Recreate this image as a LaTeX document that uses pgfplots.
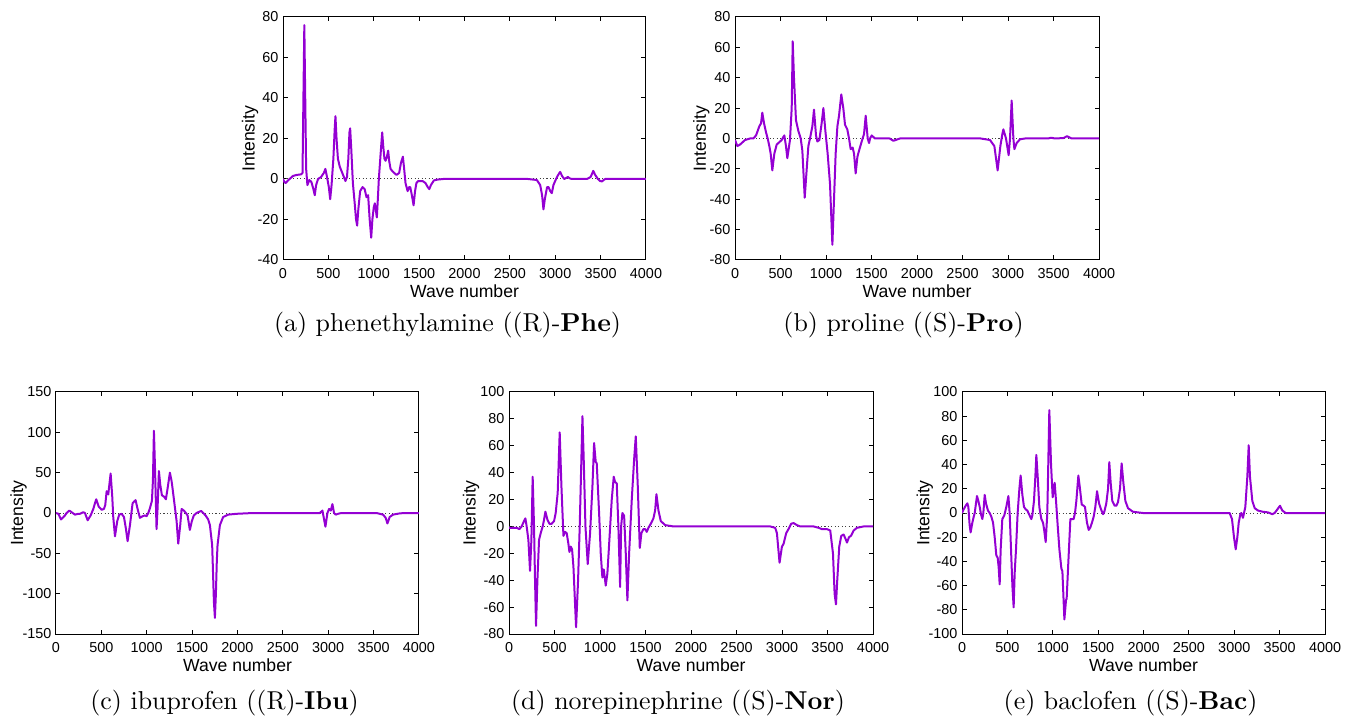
\documentclass[border=0pt]{standalone}
\usepackage{fontspec}
\usepackage{pgfplots}
\pgfplotsset{compat=1.18}
\newfontfamily\hv{Liberation Sans}
\definecolor{dv}{RGB}{148,0,211}
\newlength\px
\setlength\px{0.375pt}
\newcommand\tickfont{\hv\fontsize{5.4}{6}\selectfont}
\newcommand\labfont{\hv\fontsize{6.6}{8}\selectfont}
\pgfplotsset{
  spec/.style={
    scale only axis,
    xmin=0, xmax=4000,
    xtick={0,500,...,4000},
    tick align=inside,
    major tick length=4.5\px,
    axis line style={line width=0.375pt},
    every tick/.style={black, line width=0.375pt},
    tick label style={font=\tickfont},
    xticklabel style={inner sep=0pt, anchor=north, yshift=-7.5\px},
    yticklabel style={inner sep=0pt, anchor=east, xshift=-4\px},
    /pgf/number format/assume math mode=true,
    /pgf/number format/1000 sep={},
    scaled ticks=false,
    xlabel={Wave number}, ylabel={Intensity},
    label style={font=\labfont},
    xlabel style={at={(axis description cs:0.5,-0.156)}, anchor=base},
    clip=true,
  },
  zl/.style={black!75, line width=0.375pt, dash pattern=on 0.4pt off 0.9pt},
  sp/.style={dv, line width=0.75pt, line join=round, mark=none},
}
\begin{document}
\begin{tikzpicture}
\useasboundingbox (0,0) rectangle (1346\px,717\px);
% ---------------- (a)
\begin{axis}[spec, at={(283\px,457\px)}, anchor=south west, width=363\px, height=243\px,
  ymin=-40, ymax=80, ytick={-40,-20,...,80},
  ylabel style={at={(axis description cs:-0.0785,0.5)}, anchor=base}]
\addplot[zl] coordinates {(0,0) (4000,0)};
\addplot[sp] coordinates {
(0,0) (15,-1.5) (29,-2) (60,-0.5) (110,1.5) (150,2) (200,2.3) (215,3) (225,40) (235,76) (245,40) (255,5) (269,-3)
(290,-0.5) (313,-1.5) (335,-5) (350,-8) (365,-3) (386,0) (420,1) (450,3) (467,5) (485,1) (505,-4) (520,-10)
(535,-3) (555,10) (570,25) (578,31) (590,20) (605,10) (626,6) (662,2) (688,-1) (705,1) (720,10) (732,23) (740,25)
(752,15) (770,-2) (790,-12) (805,-20) (817,-23) (830,-15) (850,-6) (876,-4) (900,-5) (920,-9) (938,-8) (955,-20)
(972,-29) (985,-20) (1000,-14) (1012,-12) (1022,-15) (1034,-19) (1045,-10) (1056,0) (1075,12) (1093,23) (1105,16)
(1118,10) (1130,9) (1145,11) (1159,14) (1170,9) (1185,5) (1203,4) (1225,3) (1251,2) (1280,3) (1300,8) (1321,11)
(1335,5) (1350,-2) (1373,-6) (1390,-4) (1402,-4) (1420,-8) (1439,-13) (1455,-6) (1470,-2) (1490,-1) (1538,-1)
(1570,-2) (1595,-4) (1612,-5) (1630,-3) (1663,-0.7) (1700,-0.3) (1766,0) (2700,0) (2797,-0.5) (2834,-3) (2855,-8)
(2870,-15) (2885,-10) (2910,-4) (2926,-4) (2945,-6) (2962,-7) (2980,-3) (2999,-1) (3025,1.5) (3054,3.5) (3075,1.5)
(3099,0) (3120,0.5) (3139,1) (3160,0.3) (3183,0) (3350,0) (3390,1) (3419,4) (3440,2) (3470,0) (3495,-1) (3514,-1.2)
(3540,-0.3) (3551,0) (4000,0)};
\end{axis}
% ---------------- (b)
\begin{axis}[spec, at={(735\px,457\px)}, anchor=south west, width=364\px, height=243\px,
  ymin=-80, ymax=80, ytick={-80,-60,...,80},
  ylabel style={at={(axis description cs:-0.080,0.5)}, anchor=base}]
\addplot[zl] coordinates {(0,0) (4000,0)};
\addplot[sp] coordinates {
(0,-1) (26,-5) (55,-4) (110,-1) (165,0) (201,0) (231,2) (267,8) (286,10) (300,17) (319,10) (341,4) (359,0)
(377,-5) (392,-10) (410,-21) (432,-10) (458,-4) (513,-1) (531,1) (542,2) (560,-5) (575,-13) (604,-1) (623,20)
(634,64) (648,40) (670,12) (696,5) (722,0) (740,-8) (766,-39) (788,-20) (806,-5) (824,0) (850,8) (868,19) (890,2)
(905,-2) (927,-1) (952,10) (971,20) (993,5) (1018,-10) (1044,-30) (1070,-70) (1088,-40) (1106,-10) (1125,8)
(1143,15) (1168,29) (1190,20) (1209,9) (1234,6) (1253,0) (1271,-7) (1293,-6) (1308,-10) (1326,-23) (1345,-12)
(1363,-8) (1392,-2) (1418,3) (1436,15) (1458,0) (1473,-3) (1484,0) (1502,2) (1538,0) (1700,0) (1740,-1.5)
(1813,0) (2700,0) (2802,-1) (2850,-5) (2886,-21) (2916,-5) (2938,3) (2949,6) (2978,0) (3007,-11) (3022,0)
(3040,25) (3059,0) (3070,-7) (3095,-3) (3132,-0.5) (3187,0) (3440,0) (3473,0.5) (3516,0) (3610,0.3) (3648,1.5)
(3700,0) (4000,0)};
\end{axis}
% ---------------- (c)
\begin{axis}[spec, at={(56\px,83\px)}, anchor=south west, width=363\px, height=242\px,
  ymin=-150, ymax=150, ytick={-150,-100,...,150},
  ylabel style={at={(axis description cs:-0.0904,0.5)}, anchor=base}]
\addplot[zl] coordinates {(0,0) (4000,0)};
\addplot[sp] coordinates {
(0,0) (26,-1) (55,-8) (99,-3) (117,0) (147,3) (184,0) (209,-2) (246,-1) (264,-1) (301,1) (319,0) (349,-9)
(382,-3) (411,5) (429,12) (444,17) (470,8) (503,4) (528,5) (543,10) (558,27) (576,23) (602,49) (620,20)
(631,-5) (650,-29) (675,-10) (697,-2) (723,-1) (749,-5) (771,-20) (789,-35) (815,-15) (844,12) (859,14)
(877,16) (899,5) (925,-6) (954,-4) (980,-3) (998,-4) (1017,0) (1035,6) (1057,15) (1068,40) (1079,102)
(1090,60) (1108,-20) (1119,5) (1134,52) (1149,35) (1167,22) (1193,20) (1211,17) (1229,30) (1255,50)
(1273,40) (1285,30) (1307,10) (1329,-10) (1347,-38) (1369,-15) (1384,5) (1409,3) (1431,0) (1450,-3)
(1475,-21) (1497,-10) (1519,-3) (1549,0) (1578,1.5) (1600,2.5) (1622,0) (1648,-3) (1677,-8) (1696,-15)
(1721,-40) (1732,-80) (1740,-110) (1751,-130) (1762,-100) (1772,-60) (1780,-40) (1806,-15) (1842,-5)
(1897,-2) (1989,-1) (2173,0) (2907,0) (2936,3) (2969,-17) (2991,0) (3009,5) (3028,3) (3046,11) (3064,0)
(3083,-2) (3108,-1) (3145,0) (3531,0) (3604,-2) (3633,-6) (3652,-13) (3677,-5) (3714,-2) (3787,-0.5)
(3842,0) (4000,0)};
\end{axis}
% ---------------- (d)
\begin{axis}[spec, at={(509\px,83\px)}, anchor=south west, width=364\px, height=242\px,
  ymin=-80, ymax=100, ytick={-80,-60,...,100},
  ylabel style={at={(axis description cs:-0.0915,0.5)}, anchor=base}]
\addplot[zl] coordinates {(0,0) (4000,0)};
\addplot[sp] coordinates {
(0,-1) (48,-1) (84,-1) (114,-2) (139,0) (165,4) (180,6) (194,0) (213,-10) (231,-33) (246,-10) (260,37)
(275,0) (286,-40) (297,-74) (312,-40) (330,-10) (348,-5) (370,0) (385,5) (400,11) (422,5) (444,2) (469,2)
(495,4) (513,10) (535,25) (557,70) (576,30) (598,-7) (616,-4) (634,-5) (653,-13) (664,-19) (678,-15)
(693,-17) (708,-30) (737,-75) (759,-40) (777,0) (807,82) (821,50) (840,0) (865,-28) (891,-5) (917,30)
(935,62) (953,48) (964,47) (990,10) (1008,-20) (1026,-38) (1041,-32) (1052,-38) (1063,-44) (1081,-35)
(1103,-10) (1129,20) (1151,37) (1166,33) (1184,32) (1202,0) (1221,-45) (1232,0) (1246,10) (1265,8)
(1283,-20) (1301,-55) (1320,-20) (1349,20) (1375,50) (1393,67) (1415,30) (1437,-16) (1455,-5) (1477,-2)
(1496,-2) (1514,-4) (1532,-1) (1558,2) (1587,6) (1606,12) (1620,24) (1642,12) (1668,4) (1716,1) (1807,0)
(2870,0) (2925,-1) (2944,-5) (2973,-27) (2999,-15) (3017,-13) (3046,-5) (3079,-1) (3101,2) (3127,2.5)
(3164,1) (3200,0) (3347,0) (3402,-1) (3439,-2) (3494,-2) (3530,-3) (3560,-20) (3578,-50) (3593,-58)
(3607,-40) (3629,-15) (3651,-7) (3677,-6) (3703,-10) (3714,-12) (3736,-8) (3758,-7) (3787,-3) (3824,-1)
(3897,0) (4000,0)};
\end{axis}
% ---------------- (e)
\begin{axis}[spec, at={(962\px,83\px)}, anchor=south west, width=363\px, height=242\px,
  ymin=-100, ymax=100, ytick={-100,-80,...,100},
  ylabel style={at={(axis description cs:-0.090,0.5)}, anchor=base}]
\addplot[zl] coordinates {(0,0) (4000,0)};
\addplot[sp] coordinates {
(0,0) (18,3) (40,6) (59,8) (70,5) (84,-10) (95,-16) (114,-8) (129,-3) (140,0) (154,8) (165,14) (180,10)
(195,5) (209,-1) (224,-5) (235,0) (250,15) (264,8) (286,2) (305,0) (323,-3) (342,-8) (360,-20) (378,-35)
(393,-37) (404,-45) (415,-59) (426,-30) (444,-5) (466,-2) (488,5) (511,14) (525,0) (540,-30) (555,-60)
(569,-78) (580,-50) (595,-30) (613,0) (632,20) (646,31) (665,15) (683,5) (702,3) (720,2) (738,-1) (764,-5)
(775,-2) (793,10) (808,30) (819,48) (834,30) (852,5) (874,-5) (893,-8) (907,-15) (922,-24) (940,0) (962,85)
(981,40) (999,13) (1021,25) (1036,10) (1054,-10) (1073,-30) (1095,-46) (1106,-48) (1128,-88) (1146,-72)
(1153,-71) (1172,-40) (1194,-5) (1216,-5) (1230,-5) (1245,0) (1260,10) (1282,31) (1300,20) (1319,7) (1341,6)
(1355,5) (1377,-8) (1396,-14) (1414,-12) (1432,-8) (1451,-3) (1469,5) (1488,18) (1510,8) (1532,3) (1554,-1)
(1568,1) (1590,8) (1609,20) (1623,42) (1638,25) (1656,10) (1682,6) (1701,6) (1719,9) (1741,20) (1759,41)
(1778,25) (1800,10) (1829,4) (1884,1) (1994,0) (2913,0) (2949,0) (2975,-5) (2997,-20) (3016,-30) (3034,-20)
(3049,-8) (3067,-1) (3078,0) (3096,-4) (3122,5) (3144,30) (3159,56) (3173,30) (3199,10) (3225,4) (3262,2)
(3317,1) (3372,0.5) (3420,-1) (3445,0) (3475,3) (3504,6) (3530,2) (3566,0) (4000,0)};
\end{axis}
% ---------------- captions
\begin{scope}[every node/.style={anchor=base, inner sep=0pt, font=\fontsize{9.7}{12}\selectfont}]
\node at (447.5\px,385\px) {(a) phenethylamine ((R)-\textbf{Phe})};
\node at (903.5\px,385\px) {(b) proline ((S)-\textbf{Pro})};
\node at (224.5\px,8\px) {(c) ibuprofen ((R)-\textbf{Ibu})};
\node at (678\px,8\px) {(d) norepinephrine ((S)-\textbf{Nor})};
\node at (1130.5\px,8\px) {(e) baclofen ((S)-\textbf{Bac})};
\end{scope}
\end{tikzpicture}
\end{document}
